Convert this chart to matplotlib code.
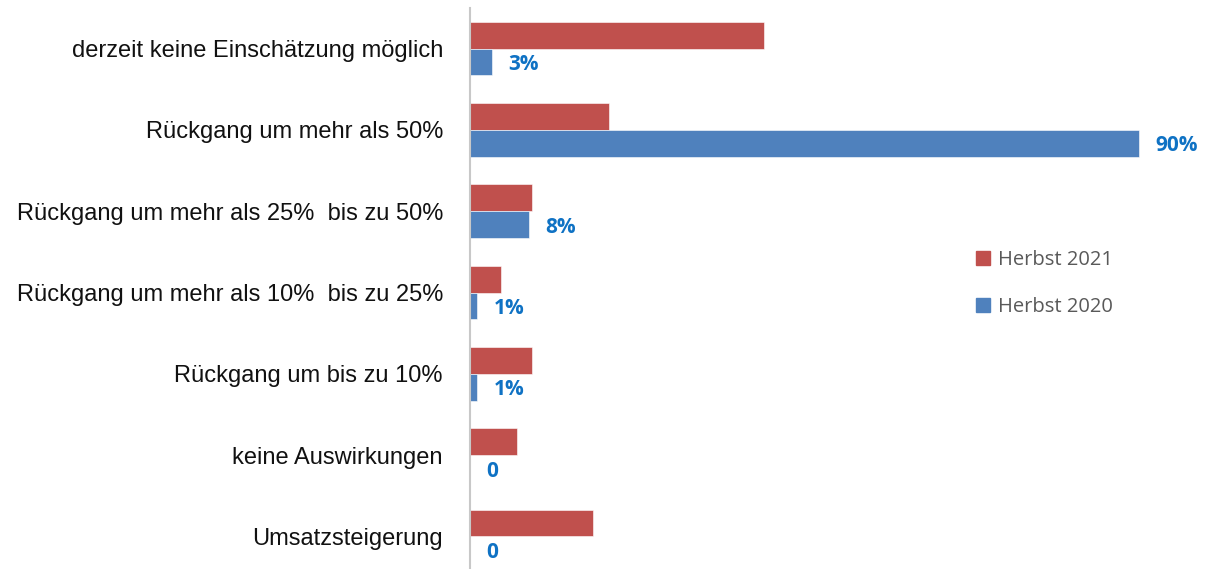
import matplotlib
matplotlib.use("Agg")
import matplotlib.pyplot as plt
from matplotlib.patches import Patch

categories = [
    "derzeit keine Einschätzung möglich",
    "Rückgang um mehr als 50%",
    "Rückgang um mehr als 25%  bis zu 50%",
    "Rückgang um mehr als 10%  bis zu 25%",
    "Rückgang um bis zu 10%",
    "keine Auswirkungen",
    "Umsatzsteigerung",
]
herbst_2021 = [39.5, 18.7, 8.4, 4.2, 8.4, 6.3, 16.6]
herbst_2020 = [3, 90, 8, 1, 1, 0, 0]
labels_2020 = ["3%", "90%", "8%", "1%", "1%", "0", "0"]

W, H = 1207, 569
fig = plt.figure(figsize=(W / 100, H / 100), dpi=100)
ax_left = 470 / W
ax_top = 1 - 8 / H
ax_h = 81.3 * 7 / H
ax = fig.add_axes([ax_left, ax_top - ax_h, 7.437 * 100 / W, ax_h])

ys = list(range(len(categories)))
bh = 0.33
red = "#C0504D"
blue = "#4F81BD"
ax.barh([y - bh / 2 for y in ys], herbst_2021, height=bh, color=red,
        label="Herbst 2021", edgecolor="white", linewidth=0.4)
bars = ax.barh([y + bh / 2 for y in ys], herbst_2020, height=bh, color=blue,
               label="Herbst 2020", edgecolor="white", linewidth=0.4)
texts = ax.bar_label(bars, labels=labels_2020, padding=11.5, color="#0F72C4",
                     fontsize=15, fontweight="bold", family="Open Sans")
for t in texts:
    t.set_verticalalignment("center_baseline")

ax.set_xlim(0, 100)
ax.set_ylim(6.5, -0.5)
ax.set_yticks(ys)
ax.set_yticklabels(categories, fontsize=17, family="Liberation Sans", color="#111111")
ax.tick_params(axis="y", length=0, pad=19.5)
ax.set_xticks([])
for s in ["top", "right", "bottom"]:
    ax.spines[s].set_visible(False)
ax.spines["left"].set_color("#C8C8C8")
ax.spines["left"].set_linewidth(1.5)

handles = [Patch(color=red), Patch(color=blue)]
fig.legend(handles, ["Herbst 2021", "Herbst 2020"], loc="upper left",
           bbox_to_anchor=(958 / W, 1 - 232 / H), frameon=False,
           prop={"family": "Open Sans", "size": 14.5}, labelcolor="#595959",
           handlelength=0.7, handleheight=0.7, handletextpad=0.4,
           labelspacing=1.35)

fig.savefig("out.png", dpi=100)
